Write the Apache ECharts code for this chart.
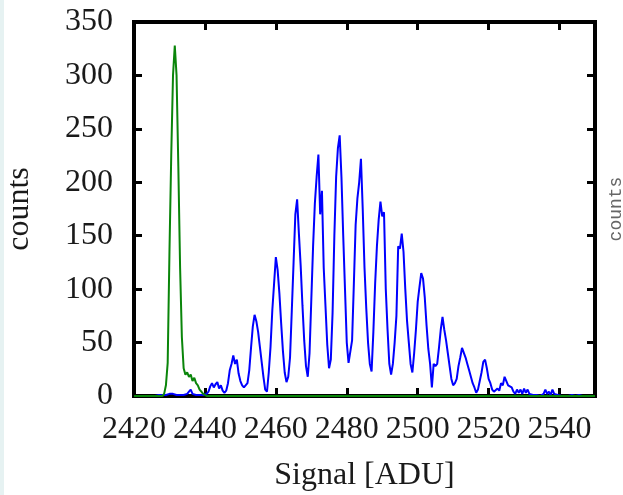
<!DOCTYPE html>
<html><head><meta charset="utf-8">
<script src="https://cdn.jsdelivr.net/npm/echarts@6/dist/echarts.min.js"></script>
<style>html,body{margin:0;padding:0;background:#fff}#c{width:623px;height:495px}</style>
</head><body><div id="c"></div>
<script>
// axis definitions
const xMin = 2420, xMax = 2550, xStep = 20;
const yMin = 0, yMax = 350, yStep = 50;

// blue histogram: bins of 0.5 ADU starting at 2420
const blueStart = 2420, blueBin = 0.5;
const blueCounts = [
  0,0,0,0,0,0,0,0,0,0,
  0,0,0,0,1,0,1,2,1,1,
  2,1,2,1,1,2,1,0,1,1,
  2,4,6,2,3,1,2,1,2,1,
  0,2,4,9,12,8,11,13,7,10,
  5,3,5,12,24,30,38,30,34,21,
  14,10,8,9,12,24,45,65,76,70,
  60,46,32,18,6,4,22,46,80,105,
  130,118,96,68,42,22,13,18,36,80,
  125,170,184,152,122,85,52,28,18,40,
  90,140,180,205,226,170,192,120,84,48,
  26,34,78,150,205,232,244,205,150,100,
  50,31,30,52,105,160,185,200,222,175,
  120,82,50,30,23,60,105,140,165,182,
  168,172,100,62,30,20,30,50,75,140,
  138,152,135,100,70,50,30,22,40,62,
  88,102,115,110,92,66,44,30,8,30,
  28,30,45,62,74,62,52,40,28,16,
  10,12,16,28,36,45,44,36,30,24,
  18,12,8,3,6,14,22,32,34,26,
  16,12,6,4,3,7,5,12,10,18,
  14,10,11,8,4,2,6,3,6,2,
  7,3,6,2,3,1,2,1,2,0,
  1,2,6,2,4,1,6,2,3,1,
  1,0,1,0,1,0,0,1,0,0,
  0,1,0,0,0,0,0,0,0,0,
  0
];

// green (pedestal) curve
const greenSignal = [2420,2428,2428.5,2429,2429.5,2430,2430.5,2431,2431.5,2432,2432.5,2433,2433.5,2434,2434.5,2435,2435.5,2436,2436.5,2437,2437.5,2438,2438.5,2439,2439.5,2440,2440.5,2550];
const greenCounts = [0,0,2,10,31,135,225,300,328,300,215,120,55,26,20,22,18,20,14,17,12,10,6,4,2,1,0,0];

const blueData = blueCounts.map((v, i) => [blueStart + i * blueBin, v]);
const greenData = greenSignal.map((s, i) => [s, greenCounts[i]]);

const serif = 'Liberation Serif';
const lineSt = () => ({ color: '#000', width: 4 });
const tickSt = () => ({ color: '#000', width: 3 });
const plain = v => String(v);

const chart = echarts.init(document.getElementById('c'), null, { renderer: 'canvas' });
chart.setOption({
  animation: false,
  backgroundColor: '#fff',
  graphic: [{ type: 'rect', left: 0, top: 0, shape: { width: 4, height: 495 }, style: { fill: '#e6f2f2' }, silent: true }],
  grid: { left: 134, top: 22, width: 461, height: 374, show: true, borderWidth: 4, borderColor: '#000', backgroundColor: 'transparent', outerBoundsMode: 'none' },
  xAxis: [{
    type: 'value', min: xMin, max: xMax, interval: xStep, position: 'bottom',
    name: 'Signal [ADU]', nameLocation: 'middle', nameGap: 64,
    nameTextStyle: { fontFamily: serif, fontSize: 32, color: '#1a1a1a' },
    axisLine: { show: true, onZero: false, lineStyle: lineSt() },
    axisTick: { show: true, inside: true, length: 8, lineStyle: tickSt() },
    axisLabel: { fontFamily: serif, fontSize: 32, color: '#1a1a1a', margin: 18, showMinLabel: true, showMaxLabel: false, hideOverlap: false, formatter: plain },
    splitLine: { show: false }
  }, {
    type: 'value', min: xMin, max: xMax, interval: xStep, position: 'top',
    axisLine: { show: true, onZero: false, lineStyle: lineSt() },
    axisTick: { show: true, inside: true, length: 8, lineStyle: tickSt() },
    axisLabel: { show: false }, splitLine: { show: false }
  }],
  yAxis: [{
    type: 'value', min: yMin, max: yMax, interval: yStep, position: 'left',
    name: 'counts', nameLocation: 'middle', nameGap: 98, nameRotate: 90,
    nameTextStyle: { fontFamily: serif, fontSize: 32, color: '#1a1a1a' },
    axisLine: { show: true, onZero: false, lineStyle: lineSt() },
    axisTick: { show: true, inside: true, length: 8, lineStyle: tickSt() },
    axisLabel: { fontFamily: serif, fontSize: 32, color: '#1a1a1a', margin: 21, showMinLabel: true, showMaxLabel: true, formatter: plain },
    splitLine: { show: false }
  }, {
    type: 'value', min: yMin, max: yMax, interval: yStep, position: 'right',
    name: 'counts', nameLocation: 'middle', nameGap: 12, nameRotate: 90,
    nameTextStyle: { fontFamily: 'Liberation Mono', fontSize: 18, color: '#666' },
    axisLine: { show: true, onZero: false, lineStyle: lineSt() },
    axisTick: { show: true, inside: true, length: 8, lineStyle: tickSt() },
    axisLabel: { show: false }, splitLine: { show: false }
  }],
  series: [{
    type: 'line', xAxisIndex: 0, yAxisIndex: 0, data: blueData, showSymbol: false, symbol: 'none',
    lineStyle: { color: '#0000ff', width: 2 }, clip: false, z: 3
  }, {
    type: 'line', xAxisIndex: 0, yAxisIndex: 0, data: greenData, showSymbol: false, symbol: 'none',
    lineStyle: { color: '#0a850a', width: 2 }, clip: false, z: 4
  }]
});
</script>
</body></html>
